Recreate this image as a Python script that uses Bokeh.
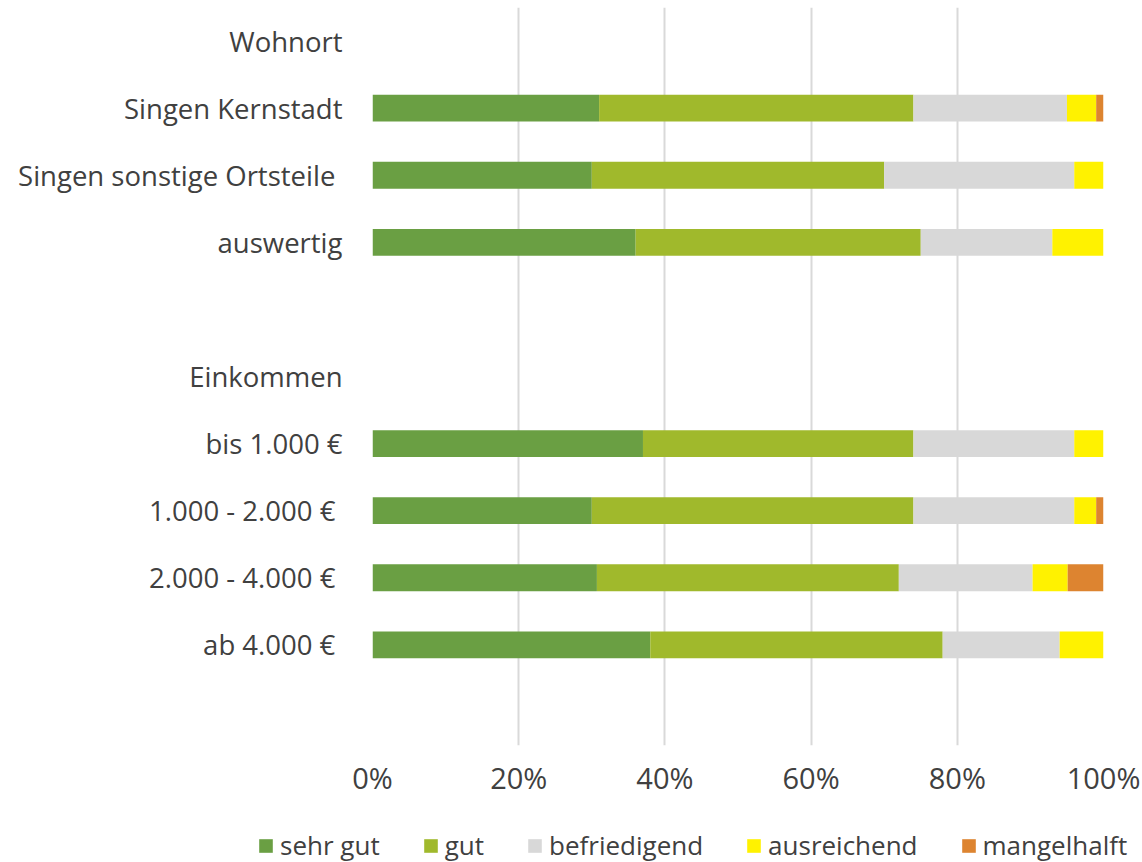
from bokeh.plotting import figure
from bokeh.layouts import column
from bokeh.models import ColumnDataSource, Range1d, FixedTicker, Legend, LegendItem, NumeralTickFormatter
from bokeh.embed import file_html
from bokeh.resources import INLINE

# rows of the chart, top to bottom ("" = empty spacer row)
rows = ["Wohnort", "Singen Kernstadt", "Singen sonstige Ortsteile\u00a0", "auswertig", "",
        "Einkommen", "bis 1.000 €", "1.000 - 2.000 €\u00a0", "2.000 - 4.000 €\u00a0", "ab 4.000 €\u00a0", ""]
groups = ["Singen Kernstadt", "Singen sonstige Ortsteile\u00a0", "auswertig",
          "bis 1.000 €", "1.000 - 2.000 €\u00a0", "2.000 - 4.000 €\u00a0", "ab 4.000 €\u00a0"]
series = ["sehr gut", "gut", "befriedigend", "ausreichend", "mangelhalft"]
sehr_gut = [31, 30, 36, 37, 30, 30.7, 38]
gut = [43, 40, 39, 37, 44, 41.3, 40]
befriedigend = [21, 26, 18, 22, 22, 18.3, 16]
ausreichend = [4, 4, 7, 4, 3, 4.8, 6]
mangelhaft = [1, 0, 0, 0, 1, 4.9, 0]
colors = ["#6A9F43", "#A0B92C", "#D8D8D8", "#FFF200", "#DD8430"]
x_ticks = [0, 0.2, 0.4, 0.6, 0.8, 1.0]

FONT = "Open Sans"
TXT = "#404040"
W = 1140
n = len(rows)
ypos = {}
overrides = {}
for i, lab in enumerate(rows):
    overrides[float(n - 1 - i)] = lab if lab else "\u00a0"
    if lab:
        ypos[lab] = n - 1 - i

keys = ["s0", "s1", "s2", "s3", "s4"]
src = ColumnDataSource(dict(
    y=[ypos[g] for g in groups],
    s0=[v / 100 for v in sehr_gut],
    s1=[v / 100 for v in gut],
    s2=[v / 100 for v in befriedigend],
    s3=[v / 100 for v in ausreichend],
    s4=[v / 100 for v in mangelhaft],
))

p = figure(width=W, height=820, output_backend="svg", toolbar_location=None,
           x_range=Range1d(0, 1), y_range=Range1d(-0.5, n - 0.5),
           min_border_left=372, min_border_right=W - 1103, min_border_top=7, min_border_bottom=75)
p.outline_line_color = None
p.background_fill_color = "white"
p.frame_align = False

p.hbar_stack(keys, y="y", height=0.4, source=src, color=colors, line_color=None)

# x axis
p.xaxis.ticker = FixedTicker(ticks=x_ticks)
p.xaxis.formatter = NumeralTickFormatter(format="0%")
p.xaxis.axis_line_color = None
p.xaxis.major_tick_line_color = None
p.xaxis.minor_tick_line_color = None
p.xaxis.major_label_text_font = FONT
p.xaxis.major_label_text_font_size = "29px"
p.xaxis.major_label_text_color = TXT
p.xaxis.major_label_standoff = 6

# y axis
p.yaxis.ticker = FixedTicker(ticks=list(range(n)))
p.yaxis.major_label_overrides = overrides
p.yaxis.axis_line_color = None
p.yaxis.major_tick_line_color = None
p.yaxis.minor_tick_line_color = None
p.yaxis.major_label_text_font = FONT
p.yaxis.major_label_text_font_size = "27.5px"
p.yaxis.major_label_text_color = TXT
p.yaxis.major_label_standoff = 24

p.ygrid.grid_line_color = None
p.xgrid.ticker = FixedTicker(ticks=x_ticks)
p.xgrid.grid_line_color = "#D9D9D9"
p.xgrid.grid_line_width = 2

# legend in its own strip below the chart (swatches come from off-range copies of the series)
lsrc = ColumnDataSource(dict(y=[-5], s0=[0.1], s1=[0.1], s2=[0.1], s3=[0.1], s4=[0.1]))
lg = figure(width=W, height=42, output_backend="svg", toolbar_location=None,
            x_range=Range1d(0, 1), y_range=Range1d(0, 1), x_axis_type=None, y_axis_type=None,
            min_border_left=0, min_border_right=0, min_border_top=0, min_border_bottom=0)
lg.outline_line_color = None
lg.grid.visible = False
lg.frame_align = False
lrs = lg.hbar_stack(keys, y="y", height=0.4, source=lsrc, color=colors, line_color=None)
legend = Legend(items=[LegendItem(label=s, renderers=[r]) for s, r in zip(series, lrs)],
                orientation="horizontal", location=(257, -1))
legend.label_text_font = FONT
legend.label_text_font_size = "26px"
legend.label_text_color = TXT
legend.glyph_width = 17
legend.glyph_height = 17
legend.label_standoff = 6
legend.spacing = 42
legend.padding = 0
legend.margin = 0
legend.border_line_color = None
legend.background_fill_alpha = 0
lg.add_layout(legend)

open("out.html", "w").write(file_html(column(p, lg, spacing=0), INLINE))
